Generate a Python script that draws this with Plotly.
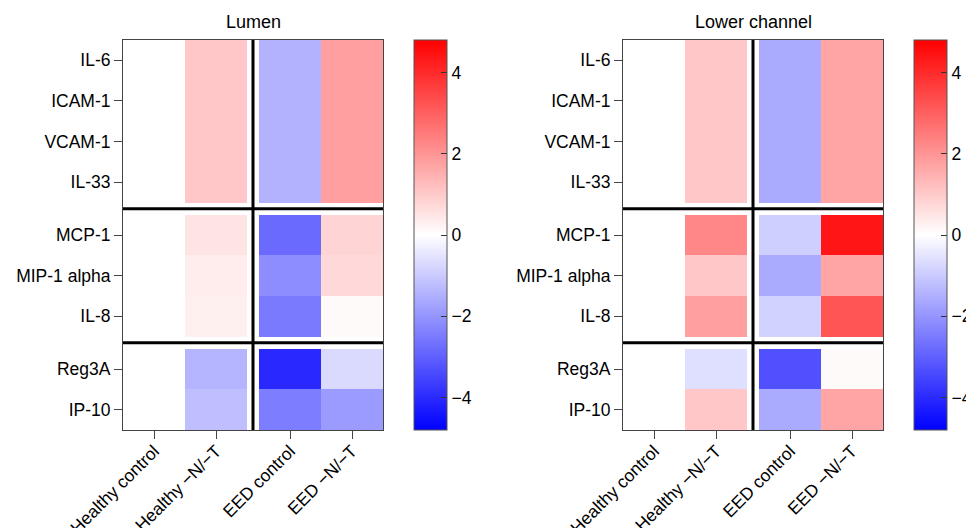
import math
import plotly.graph_objects as go

# ---------------- data ----------------
columns = ["Healthy control", "Healthy \u2212N/\u2212T", "EED control", "EED \u2212N/\u2212T"]
rows = ["IL-6", "ICAM-1", "VCAM-1", "IL-33", "MCP-1", "MIP-1 alpha", "IL-8", "Reg3A", "IP-10"]
row_groups = [4, 3, 2]
panel_titles = ["Lumen", "Lower channel"]

# log-fold values per column (rows in order above)
lumen_healthy_ctrl = [0, 0, 0, 0, 0, 0, 0, 0, 0]
lumen_healthy_nt   = [1.05, 1.05, 1.05, 1.05, 0.5, 0.35, 0.28, -1.4, -1.2]
lumen_eed_ctrl     = [-1.45, -1.45, -1.45, -1.45, -2.8, -2.15, -2.5, -4.05, -2.45]
lumen_eed_nt       = [1.8, 1.8, 1.8, 1.8, 0.8, 0.72, 0.1, -0.7, -1.9]

lower_healthy_ctrl = [0, 0, 0, 0, 0, 0, 0, 0, 0]
lower_healthy_nt   = [1.05, 1.05, 1.05, 1.05, 2.25, 1.05, 1.8, -0.6, 1.05]
lower_eed_ctrl     = [-1.6, -1.6, -1.6, -1.6, -0.9, -1.6, -0.85, -3.3, -1.6]
lower_eed_nt       = [1.7, 1.7, 1.7, 1.7, 4.4, 1.7, 3.2, 0.1, 1.7]

zlim = 4.8
cbar_ticks = [-4, -2, 0, 2, 4]

# ---------------- geometry ----------------
W, H = 974, 528
OFF = 8  # page body margin offset
gx = 12 / 62.0      # column gap (in column units)
gy = 12 / 40.6      # row gap (in row units)
x_edges = [0, 1, 2, 2 + gx, 3 + gx, 4 + gx]
x_centers = [0.5, 1.5, 2.5 + gx, 3.5 + gx]
x_split = 2 + gx / 2

y_edges = [0.0]
y_centers = []
y_splits = []
y = 0.0
for gi, n in enumerate(row_groups):
    for _ in range(n):
        y_centers.append(y + 0.5)
        y += 1
        y_edges.append(y)
    if gi < len(row_groups) - 1:
        y_splits.append(y + gy / 2)
        y += gy
        y_edges.append(y)
y_total = y


def build_z(cols_vals):
    nan = float("nan")
    z = []
    idx = 0
    for gi, n in enumerate(row_groups):
        for _ in range(n):
            r = [cols_vals[0][idx], cols_vals[1][idx], nan, cols_vals[2][idx], cols_vals[3][idx]]
            z.append(r)
            idx += 1
        if gi < len(row_groups) - 1:
            z.append([nan] * 5)
    return z


panels = [
    [lumen_healthy_ctrl, lumen_healthy_nt, lumen_eed_ctrl, lumen_eed_nt],
    [lower_healthy_ctrl, lower_healthy_nt, lower_eed_ctrl, lower_eed_nt],
]

plot_left_px = [123 - OFF, 623 - OFF]
plot_w_px = 260
cbar_left_px = [414 - OFF, 914 - OFF]
top_px, bot_px = 40 - OFF, 430 - OFF
title_px = 22 - OFF
FS = 17.5

colorscale = [[0, "rgb(0,0,255)"], [0.5, "rgb(255,255,255)"], [1, "rgb(255,0,0)"]]
font_family = "Liberation Sans, Arial, Helvetica, sans-serif"

fig = go.Figure()
layout = dict(
    width=W, height=H,
    margin=dict(l=0, r=0, t=0, b=0, autoexpand=False),
    paper_bgcolor="white", plot_bgcolor="white",
    font=dict(family=font_family, size=FS, color="black"),
    showlegend=False,
)
shapes = []
annotations = []

for p, vals in enumerate(panels):
    sfx = "" if p == 0 else str(p + 1)
    ca = "coloraxis" + sfx
    fig.add_trace(go.Heatmap(
        x=x_edges, y=y_edges, z=build_z(vals),
        coloraxis=ca, xaxis="x" + sfx, yaxis="y" + sfx,
        hoverongaps=False,
    ))
    x0 = plot_left_px[p] / W
    x1 = (plot_left_px[p] + plot_w_px) / W
    layout["xaxis" + sfx] = dict(
        domain=[x0, x1], range=[0, 4 + gx], anchor="y" + sfx,
        tickmode="array", tickvals=x_centers, ticktext=columns,
        tickangle=-45, ticks="outside", ticklen=8, tickcolor="#444",
        showline=True, mirror=True, linecolor="#444", linewidth=1,
        showgrid=False, zeroline=False, tickfont=dict(size=FS),
        automargin=False, ticklabelstandoff=-5,
    )
    layout["yaxis" + sfx] = dict(
        domain=[(H - bot_px) / H, (H - top_px) / H], range=[y_total, 0],
        anchor="x" + sfx,
        tickmode="array", tickvals=y_centers, ticktext=rows,
        ticks="outside", ticklen=8, tickcolor="#444",
        showline=True, mirror=True, linecolor="#444", linewidth=1,
        showgrid=False, zeroline=False, tickfont=dict(size=FS),
        automargin=False,
    )
    layout[ca] = dict(
        cmin=-zlim, cmax=zlim, colorscale=colorscale,
        colorbar=dict(
            x=cbar_left_px[p] / W, xanchor="left",
            y=(H - (top_px + bot_px) / 2) / H, yanchor="middle",
            len=bot_px - top_px, lenmode="pixels",
            thickness=33, thicknessmode="pixels",
            outlinewidth=1, outlinecolor="#555",
            tickmode="array", tickvals=cbar_ticks,
            ticks="inside", ticklen=6, tickcolor="#333",
            tickfont=dict(size=FS), xpad=0, ypad=0,
        ),
    )
    # separators
    shapes.append(dict(type="line", xref="x" + sfx, yref="y" + sfx,
                       x0=x_split, x1=x_split, y0=0, y1=y_total,
                       line=dict(color="black", width=3)))
    for ys in y_splits:
        shapes.append(dict(type="line", xref="x" + sfx, yref="y" + sfx,
                           x0=0, x1=4 + gx, y0=ys, y1=ys,
                           line=dict(color="black", width=3)))
    annotations.append(dict(
        text=panel_titles[p], xref="paper", yref="paper",
        x=(x0 + x1) / 2, y=(H - title_px) / H, xanchor="center", yanchor="middle",
        showarrow=False, font=dict(size=18),
    ))

layout["shapes"] = shapes
layout["annotations"] = annotations
fig.update_layout(**layout)
fig.write_html("out.html")
